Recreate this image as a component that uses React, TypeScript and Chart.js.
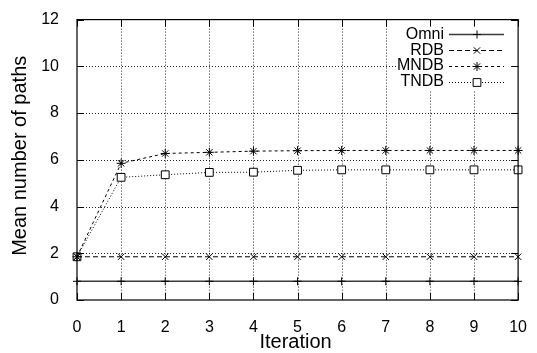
import React, { useEffect, useRef } from "react";
import { Chart, registerables } from "chart.js";
import { drawPoint } from "chart.js/helpers";

Chart.register(...registerables);

// Iterations on the x axis
const iterations = [0, 1, 2, 3, 4, 5, 6, 7, 8, 9, 10];

// Mean number of paths per scheme
const omni = [0.8, 0.8, 0.8, 0.8, 0.8, 0.8, 0.8, 0.8, 0.8, 0.8, 0.8];
const rdb = [1.85, 1.85, 1.85, 1.85, 1.85, 1.85, 1.85, 1.85, 1.85, 1.85, 1.85];
const mndb = [1.85, 5.85, 6.27, 6.32, 6.37, 6.39, 6.4, 6.4, 6.4, 6.4, 6.4];
const tndb = [1.85, 5.25, 5.36, 5.46, 5.47, 5.55, 5.57, 5.57, 5.57, 5.57, 5.57];

// Axis ticks
const xTicks = [0, 1, 2, 3, 4, 5, 6, 7, 8, 9, 10];
const yTicks = [0, 2, 4, 6, 8, 10, 12];

const seriesNames = ["Omni", "RDB", "MNDB", "TNDB"];
const xTitle = "Iteration";
const yTitle = "Mean number of paths";

const FONT = "'Liberation Sans', Arial, Helvetica, sans-serif";

type Style = {
  color: string;
  width: number;
  dash: number[];
  point: string;
  radius: number;
  fill: string;
};

const styles: Style[] = [
  { color: "#3a3a3a", width: 1.5, dash: [], point: "cross", radius: 4, fill: "#000" },
  { color: "#000", width: 1, dash: [5, 3], point: "crossRot", radius: 4.5, fill: "#000" },
  { color: "#000", width: 1, dash: [3, 3], point: "star", radius: 4.5, fill: "#000" },
  { color: "#000", width: 1, dash: [1, 2], point: "rect", radius: 5.5, fill: "#fff" },
];

const seriesValues = [omni, rdb, mndb, tndb];

// Key geometry (canvas pixels)
const legendBox = { x0: 398, x1: 515, y0: 23, y1: 90 };
const legendTextRight = 444;
const legendSample = { x0: 449, x1: 504 };
const legendRows = [34, 50, 65.5, 81.5];

const framePlugin = {
  id: "gnuplotFrame",
  beforeDatasetsDraw(chart: any) {
    const { ctx, chartArea: a, scales } = chart;
    ctx.save();
    ctx.strokeStyle = "rgba(0,0,0,0.85)";
    ctx.lineWidth = 1;
    ctx.setLineDash([1, 2]);
    xTicks.forEach((v) => {
      if (v === xTicks[0] || v === xTicks[xTicks.length - 1]) return;
      const px = Math.round(scales.x.getPixelForValue(v)) + 0.5;
      ctx.beginPath();
      ctx.moveTo(px, a.top);
      ctx.lineTo(px, a.bottom);
      ctx.stroke();
    });
    yTicks.forEach((v) => {
      if (v === yTicks[0] || v === yTicks[yTicks.length - 1]) return;
      const py = Math.round(scales.y.getPixelForValue(v)) + 0.5;
      ctx.beginPath();
      ctx.moveTo(a.left, py);
      ctx.lineTo(a.right, py);
      ctx.stroke();
    });
    ctx.setLineDash([]);
    // opaque key area
    ctx.fillStyle = "#fff";
    ctx.fillRect(legendBox.x0, legendBox.y0, legendBox.x1 - legendBox.x0, legendBox.y1 - legendBox.y0);
    ctx.restore();
  },
  afterDatasetsDraw(chart: any) {
    const { ctx, chartArea: a, scales } = chart;
    ctx.save();
    ctx.strokeStyle = "#000";
    ctx.lineWidth = 1.2;
    ctx.strokeRect(a.left, a.top, a.right - a.left, a.bottom - a.top);
    const tl = 7;
    ctx.lineWidth = 1;
    ctx.beginPath();
    xTicks.forEach((v) => {
      const px = Math.round(scales.x.getPixelForValue(v)) + 0.5;
      ctx.moveTo(px, a.bottom);
      ctx.lineTo(px, a.bottom - tl);
      ctx.moveTo(px, a.top);
      ctx.lineTo(px, a.top + tl);
    });
    yTicks.forEach((v) => {
      const py = Math.round(scales.y.getPixelForValue(v)) + 0.5;
      ctx.moveTo(a.left, py);
      ctx.lineTo(a.left + tl, py);
      ctx.moveTo(a.right, py);
      ctx.lineTo(a.right - tl, py);
    });
    ctx.stroke();

    // key
    ctx.font = `16px ${FONT}`;
    ctx.textAlign = "right";
    ctx.textBaseline = "alphabetic";
    seriesNames.forEach((name, i) => {
      const y = legendRows[i];
      const ly = Math.round(y) + 0.5;
      const s = styles[i];
      ctx.fillStyle = "#000";
      ctx.fillText(name, legendTextRight, y + 4.5);
      ctx.strokeStyle = s.color;
      ctx.lineWidth = s.width;
      ctx.setLineDash(s.dash);
      ctx.beginPath();
      ctx.moveTo(legendSample.x0, ly);
      ctx.lineTo(legendSample.x1, ly);
      ctx.stroke();
      ctx.setLineDash([]);
      ctx.strokeStyle = "#000";
      ctx.fillStyle = s.fill;
      ctx.lineWidth = 1;
      drawPoint(
        ctx,
        { pointStyle: s.point as any, radius: s.radius, rotation: 0, borderWidth: 1 },
        477,
        ly
      );
    });

    // axis titles
    ctx.fillStyle = "#000";
    ctx.font = `20px ${FONT}`;
    ctx.textAlign = "center";
    ctx.textBaseline = "alphabetic";
    ctx.fillText(xTitle, (a.left + a.right) / 2 - 2, 348);
    ctx.save();
    ctx.translate(26, (a.top + a.bottom) / 2 - 4);
    ctx.rotate(-Math.PI / 2);
    ctx.fillText(yTitle, 0, 0);
    ctx.restore();
    ctx.restore();
  },
};

export default function App() {
  const canvasRef = useRef<HTMLCanvasElement | null>(null);

  useEffect(() => {
    const canvas = canvasRef.current;
    if (!canvas) return;
    const datasets = seriesNames.map((name, i) => {
      const s = styles[i];
      return {
        label: name,
        data: iterations.map((x, j) => ({ x, y: seriesValues[i][j] })),
        borderColor: s.color,
        borderWidth: s.width,
        borderDash: s.dash,
        pointStyle: s.point,
        pointRadius: s.radius,
        pointBorderColor: "#000",
        pointBackgroundColor: s.fill,
        pointBorderWidth: 1,
        tension: 0,
        fill: false,
        clip: false as any,
      };
    });
    const chart = new Chart(canvas, {
      type: "line",
      data: { datasets: datasets as any },
      options: {
        animation: false,
        responsive: false,
        devicePixelRatio: 1,
        layout: { padding: { top: 15, right: 12, left: 0, bottom: 0 } },
        plugins: { legend: { display: false }, tooltip: { enabled: false } },
        scales: {
          x: {
            type: "linear",
            min: 0,
            max: 10,
            grid: { display: false },
            border: { display: false },
            afterBuildTicks: (scale: any) => {
              scale.ticks = xTicks.map((v) => ({ value: v }));
            },
            afterFit: (scale: any) => {
              scale.height = 53;
            },
            ticks: {
              color: "#000",
              padding: 10,
              maxRotation: 0,
              autoSkip: false,
              font: { family: FONT, size: 16 },
            },
          },
          y: {
            type: "linear",
            min: 0,
            max: 12,
            grid: { display: false },
            border: { display: false },
            afterBuildTicks: (scale: any) => {
              scale.ticks = yTicks.map((v) => ({ value: v }));
            },
            afterFit: (scale: any) => {
              scale.width = 77;
            },
            ticks: {
              color: "#000",
              padding: 10,
              font: { family: FONT, size: 16 },
            },
          },
        },
      },
      plugins: [framePlugin],
    });
    return () => chart.destroy();
  }, []);

  return (
    <div style={{ position: "absolute", left: 0, top: 0, width: 537, height: 353, background: "#fff" }}>
      <canvas ref={canvasRef} width={537} height={353} style={{ width: 537, height: 353 }} />
    </div>
  );
}
